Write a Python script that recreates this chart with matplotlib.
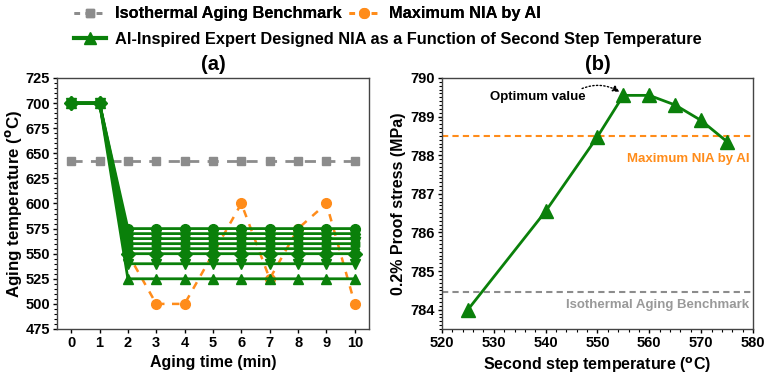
import matplotlib
matplotlib.use("Agg")
import matplotlib.pyplot as plt
from matplotlib.ticker import MultipleLocator
from matplotlib.lines import Line2D

plt.rcParams['font.family'] = ['Liberation Sans', 'DejaVu Sans']
plt.rcParams['font.weight'] = 'bold'
plt.rcParams['axes.labelweight'] = 'bold'

# ---- data, panel (a)
aging_time = [0, 1, 2, 3, 4, 5, 6, 7, 8, 9, 10]
isothermal_temp = [642, 642, 642, 642, 642, 642, 642, 642, 642, 642, 642]
max_nia_temp = [700, 700, 550, 500, 500, 550, 600, 525, 575, 600, 500]
first_step_temp = 700
second_step_temps = [525, 540, 550, 555, 560, 565, 570, 575]

# ---- data, panel (b)
step_temp = [525, 540, 550, 555, 560, 565, 570, 575]
proof_stress = [784.0, 786.55, 788.48, 789.55, 789.55, 789.3, 788.9, 788.35]
max_nia_stress = 788.5
isothermal_stress = 784.47

green = '#0a800a'
orange = '#ff8c1a'
grey = '#8c8c8c'
markers = ['^', 'v', 'D', 'd', 'h', 'p', 'H', 'o']

fig = plt.figure(figsize=(7.66, 3.81), dpi=100)
ax1 = fig.add_axes([0.0744, 0.1365, 0.4073, 0.6588])
ax2 = fig.add_axes([0.577, 0.1365, 0.406, 0.6588])

# panel a
ax1.plot(aging_time, isothermal_temp, color=grey, ls=(0, (4, 3)), lw=2,
         marker='s', ms=6, zorder=2)
ax1.plot(aging_time, max_nia_temp, color=orange, ls=(0, (3, 3)), lw=1.8,
         marker='o', ms=7, zorder=2)
for T, m in zip(second_step_temps, markers):
    ys = [first_step_temp, first_step_temp] + [T] * (len(aging_time) - 2)
    ax1.plot(aging_time, ys, color=green, lw=2, marker=m, ms=7, zorder=3)

ax1.set_xlim(-0.5, 10.5)
ax1.set_ylim(475, 725)
ax1.set_xticks(aging_time)
ax1.yaxis.set_major_locator(MultipleLocator(25))
ax1.yaxis.set_minor_locator(MultipleLocator(5))
ax1.set_xlabel('Aging time (min)', fontsize=11.5)
ax1.set_ylabel('Aging temperature ($^{\\mathrm{o}}$C)', fontsize=12.2, labelpad=1)
ax1.set_title('(a)', fontsize=14.5, fontweight='bold', pad=6)

# panel b
ax2.axhline(max_nia_stress, color=orange, ls=(0, (3, 2)), lw=1.5)
ax2.axhline(isothermal_stress, color=grey, ls=(0, (3, 2)), lw=1.5)
ax2.plot(step_temp, proof_stress, color=green, lw=2, marker='^', ms=10)
ax2.set_xlim(520, 580)
ax2.set_ylim(783.5, 790)
ax2.xaxis.set_major_locator(MultipleLocator(10))
ax2.xaxis.set_minor_locator(MultipleLocator(2))
ax2.yaxis.set_major_locator(MultipleLocator(1))
ax2.yaxis.set_minor_locator(MultipleLocator(0.1))
ax2.set_xlabel('Second step temperature ($^{\\mathrm{o}}$C)', fontsize=11.5)
ax2.set_ylabel('0.2% Proof stress (MPa)', fontsize=11.5, labelpad=3)
ax2.set_title('(b)', fontsize=14.5, fontweight='bold', pad=6)
ax2.text(579.3, 787.9, 'Maximum NIA by AI', color=orange, fontsize=9.5,
         ha='right', va='center', fontweight='bold')
ax2.text(579.3, 784.13, 'Isothermal Aging Benchmark', color='#999999',
         fontsize=9.5, ha='right', va='center', fontweight='bold')
ax2.annotate('Optimum value', xy=(step_temp[3] - 0.3, proof_stress[3] + 0.05),
             xytext=(538.5, 789.5), fontsize=9.5, fontweight='bold',
             ha='center', va='center',
             arrowprops=dict(arrowstyle='-|>', ls=':', color='black', lw=1,
                             connectionstyle='arc3,rad=-0.3',
                             shrinkA=0, shrinkB=2,
                             relpos=(0.9, 1.0)))

for ax in (ax1, ax2):
    ax.tick_params(which='both', direction='out', top=False, right=False,
                   labelsize=10.5, pad=2)
    ax.tick_params(which='major', length=3, width=1)
    ax.tick_params(which='minor', length=2, width=0.8)
    for s in ax.spines.values():
        s.set_color('#444444')
        s.set_linewidth(1)
    for lab in ax.get_xticklabels() + ax.get_yticklabels():
        lab.set_fontweight('bold')

# legends
leg_font = dict(family='Liberation Sans', weight='bold', size=11.8)
h_grey = Line2D([], [], color=grey, ls=(0, (2, 2)), lw=2, marker='s', ms=6)
h_orange = Line2D([], [], color=orange, ls=(0, (2, 2)), lw=2, marker='o', ms=7)
h_green = Line2D([], [], color=green, ls='-', lw=3, marker='^', ms=8)
leg1 = fig.legend([h_grey, h_orange],
                  ['Isothermal Aging Benchmark', 'Maximum NIA by AI'],
                  loc='upper left', bbox_to_anchor=(0.078, 1.022), ncol=2,
                  frameon=False, prop=leg_font, handlelength=1.9,
                  handletextpad=0.55, columnspacing=0.45)
fig.legend([h_green],
           ['AI-Inspired Expert Designed NIA as a Function of Second Step Temperature'],
           loc='upper left', bbox_to_anchor=(0.078, 0.955), frameon=False,
           prop=leg_font, handlelength=1.9, handletextpad=0.55)
fig.add_artist(leg1)

fig.savefig('out.png', dpi=100)
